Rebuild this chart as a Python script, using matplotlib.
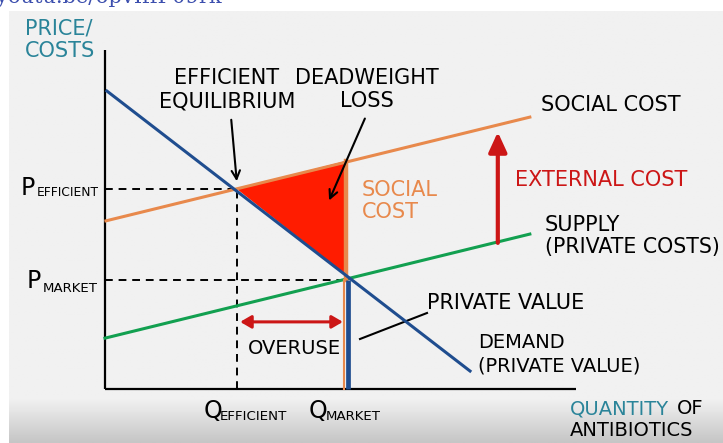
import numpy as np
import matplotlib.pyplot as plt
from matplotlib.patches import Polygon, FancyArrowPatch

# chart units: quantity 0..10 along the x axis, price 0..10 along the y axis
demand_q = [0.04, 7.75]
demand_p = [8.79, 0.53]
social_q = [0.02, 9.02]
social_p = [4.96, 8.02]
supply_q = [0.0, 9.02]
supply_p = [1.50, 4.57]

q_eff, p_eff = 2.80, 5.90
q_mkt, p_mkt = 5.12, 3.22
social_at_qmkt = 6.73
demand_at_qmkt = 3.36

ext_q, ext_p0, ext_p1 = 8.34, 4.31, 7.58
overuse_p, overuse_q0, overuse_q1 = 1.98, 2.87, 5.05

BLUE = '#1f4d8f'
ORANGE = '#e8894c'
GREEN = '#12a050'
RED = '#cc1616'
FILL = '#ff1c00'
TEAL = '#2a8499'

W, H = 723, 443
fig = plt.figure(figsize=(W / 100, H / 100), dpi=100)
fig.patch.set_facecolor('white')

# paper background (pixel space)
bg = fig.add_axes([0, 0, 1, 1])
bg.set_xlim(0, W)
bg.set_ylim(H, 0)
bg.axis('off')
grad = np.linspace(0, 1, 200)
shade = np.where(grad < 0.9, 0.945, 0.945 - (grad - 0.9) / 0.1 * 0.17)
bg.imshow(np.tile(shade[:, None], (1, 2)), cmap='gray', vmin=0, vmax=1,
          extent=[9, W, H, 11], aspect='auto', interpolation='bilinear')
bg.text(-4, 3, 'youtu.be/6pvIffF09rk', fontsize=15, family='DejaVu Serif',
        color='#3c4fae', va='baseline', ha='left')

ax = fig.add_axes([0, 0, 1, 1])
ax.patch.set_alpha(0)
sx, sy = 47.1, 33.9
ax.set_xlim(-105 / sx, (W - 105) / sx)
ax.set_ylim((389 - H) / sy, 389 / sy)
ax.axis('off')


def at(x, y):
    return ((x - 105) / sx, (389 - y) / sy)


# axes
ax.plot([0, 0], [0, 10], color='black', lw=1.6, solid_capstyle='butt')
ax.plot([0, 10], [0, 0], color='black', lw=1.6, solid_capstyle='butt')

# deadweight loss triangle
ax.add_patch(Polygon([(q_eff, p_eff), (q_mkt, social_at_qmkt), (q_mkt, demand_at_qmkt)],
                     closed=True, facecolor=FILL, edgecolor='none', zorder=2))

# dashed guides
dash = dict(color='black', lw=1.4, ls=(0, (4, 3)), zorder=1)
ax.plot([0, q_eff], [p_eff, p_eff], **dash)
ax.plot([q_eff, q_eff], [0, p_eff], **dash)
ax.plot([0, q_mkt], [p_mkt, p_mkt], **dash)

# curves
ax.plot(social_q, social_p, color=ORANGE, lw=2.2, zorder=3)
ax.plot(supply_q, supply_p, color=GREEN, lw=2.2, zorder=3)
ax.plot(demand_q, demand_p, color=BLUE, lw=2.2, zorder=4)
ax.plot([q_mkt, q_mkt], [p_mkt, social_at_qmkt], color=ORANGE, lw=3.2, zorder=3)
ax.plot([q_mkt - 0.04, q_mkt - 0.04], [0, p_mkt], color=ORANGE, lw=1.5, zorder=3)
ax.plot([q_mkt + 0.03, q_mkt + 0.03], [0, p_mkt], color=BLUE, lw=3.4, zorder=4,
        solid_capstyle='butt')

# arrows
ax.add_patch(FancyArrowPatch((ext_q, ext_p0), (ext_q, ext_p1),
                             arrowstyle='-|>,head_length=12,head_width=5.5',
                             color=RED, lw=3, mutation_scale=1, shrinkA=0, shrinkB=0, zorder=5))
ax.add_patch(FancyArrowPatch((overuse_q0, overuse_p), (overuse_q1, overuse_p),
                             arrowstyle='<|-|>,head_length=6.5,head_width=3.8',
                             color=RED, lw=2.2, mutation_scale=1, shrinkA=0, shrinkB=0, zorder=5))
ax.annotate('', xy=at(237, 184), xytext=at(231, 117),
            arrowprops=dict(arrowstyle='->,head_length=0.6,head_width=0.3', color='black', lw=1.5))
ax.annotate('', xy=at(328, 203), xytext=at(366, 116),
            arrowprops=dict(arrowstyle='->,head_length=0.6,head_width=0.3', color='black', lw=1.5))
ax.plot(*zip(at(360, 339), at(427, 313)), color='black', lw=1.5)

# labels
tk = dict(fontsize=15, family='DejaVu Sans', va='center')
tk14 = dict(tk, fontsize=14)
ax.text(*at(25, 29), 'PRICE/', color=TEAL, ha='left', **tk)
ax.text(*at(25, 51), 'COSTS', color=TEAL, ha='left', **tk)
ax.text(*at(227, 78), 'EFFICIENT', ha='center', **tk)
ax.text(*at(227, 101), 'EQUILIBRIUM', ha='center', **tk)
ax.text(*at(367, 78), 'DEADWEIGHT', ha='center', **tk)
ax.text(*at(367, 101), 'LOSS', ha='center', **tk)
ax.text(*at(541, 105), 'SOCIAL COST', ha='left', **tk)
ax.text(*at(362, 190), 'SOCIAL', color=ORANGE, ha='left', **tk)
ax.text(*at(362, 212), 'COST', color=ORANGE, ha='left', **tk)
ax.text(*at(515, 180), 'EXTERNAL COST', color=RED, ha='left', **tk)
ax.text(*at(545, 225), 'SUPPLY', ha='left', **tk)
ax.text(*at(545, 247), '(PRIVATE COSTS)', ha='left', **dict(tk, fontsize=14.8))
ax.text(*at(248, 349), 'OVERUSE', ha='left', **tk14)
ax.text(*at(427, 303), 'PRIVATE VALUE', ha='left', **tk)
ax.text(*at(478, 343), 'DEMAND', ha='left', **tk14)
ax.text(*at(478, 366), '(PRIVATE VALUE)', ha='left', **tk14)
ax.text(*at(570, 409), 'QUANTITY', color=TEAL, ha='left', **tk14)
ax.text(*at(677, 409), 'OF', ha='left', **tk14)
ax.text(*at(570, 431), 'ANTIBIOTICS', ha='left', **tk14)

# subscripted tick labels
big = dict(fontsize=17, family='DejaVu Sans', va='baseline', ha='left')
small = dict(fontsize=9.6, family='DejaVu Sans', va='baseline', ha='left')
ax.text(*at(21, 195), 'P', **big)
ax.text(*at(37, 196), 'EFFICIENT', **dict(small, fontsize=8.8))
ax.text(*at(27, 288), 'P', **big)
ax.text(*at(43, 292), 'MARKET', **small)
ax.text(*at(204, 418), 'Q', **big)
ax.text(*at(220, 420), 'EFFICIENT', **small)
ax.text(*at(309, 418), 'Q', **big)
ax.text(*at(326, 420), 'MARKET', **small)

fig.savefig('out.png', dpi=100, facecolor=fig.get_facecolor())
